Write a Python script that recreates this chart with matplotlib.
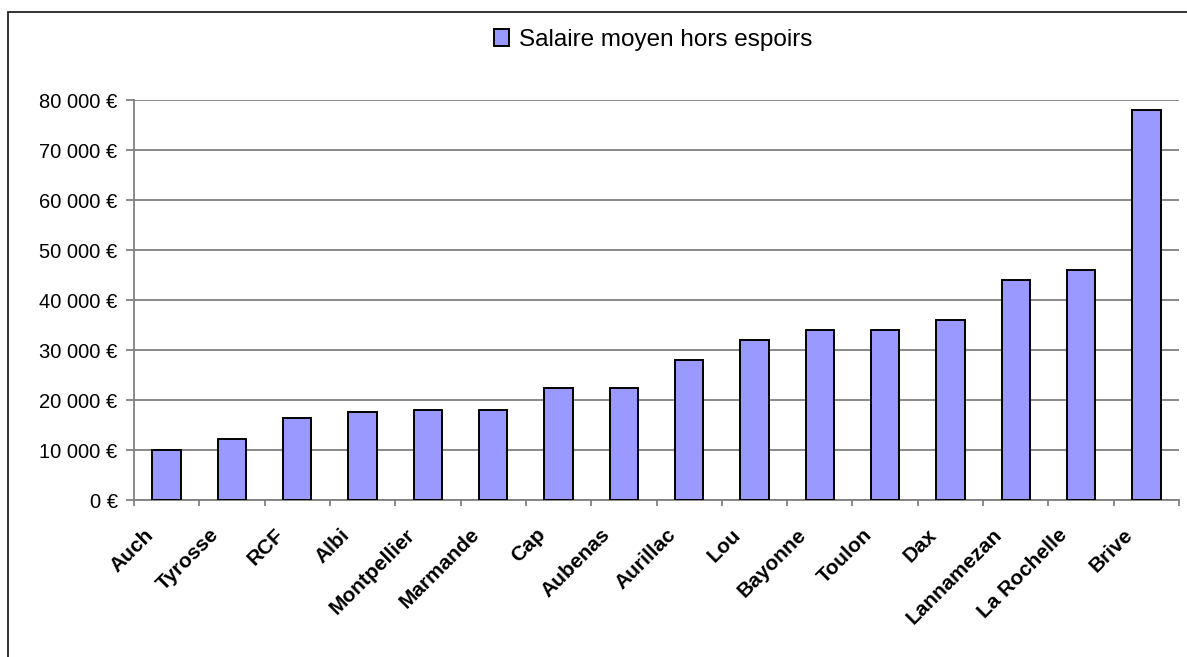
import matplotlib
matplotlib.use("Agg")
import matplotlib.pyplot as plt
import matplotlib.transforms as mtransforms
from matplotlib.patches import Rectangle
from matplotlib.ticker import FuncFormatter, FixedLocator, NullFormatter
import numpy as np

plt.rcParams['font.family'] = ['Liberation Sans', 'DejaVu Sans']

clubs = ["Auch", "Tyrosse", "RCF", "Albi", "Montpellier", "Marmande", "Cap",
         "Aubenas", "Aurillac", "Lou", "Bayonne", "Toulon", "Dax",
         "Lannamezan", "La Rochelle", "Brive"]
salaires = [10000, 12300, 16500, 17700, 18000, 18000, 22500, 22500, 28000,
            32000, 34000, 34000, 36000, 44000, 46000, 78000]
serie = "Salaire moyen hors espoirs"

W, H = 1187, 657
fig = plt.figure(figsize=(W / 100, H / 100), dpi=100)
ax = fig.add_axes([134 / W, 1 - 500 / H, (1179 - 134) / W, 400 / H])

x = np.arange(len(clubs))
ax.bar(x, salaires, width=0.435, color="#9999ff", edgecolor="black",
       linewidth=1.4, label=serie, zorder=3)

ax.set_xlim(-0.5, len(clubs) - 0.5)
ax.set_ylim(0, 80000)
ax.set_yticks(np.arange(0, 80001, 10000))
ax.yaxis.set_major_formatter(FuncFormatter(
    lambda v, p: f"{int(v):,}".replace(",", " ") + " €"))
ax.grid(axis="y", color="#808080", linewidth=1.3, zorder=0)

ax.set_xticks(x)
ax.set_xticklabels(clubs, rotation=45, ha="right", rotation_mode="anchor",
                   fontweight="bold", fontsize=15)
ax.tick_params(axis="x", length=0, pad=18)
shift = mtransforms.ScaledTranslation(-23 / 100, 0, fig.dpi_scale_trans)
for lbl in ax.get_xticklabels():
    lbl.set_transform(lbl.get_transform() + shift)
ax.xaxis.set_minor_locator(FixedLocator(np.arange(-0.5, len(clubs), 1.0)))
ax.xaxis.set_minor_formatter(NullFormatter())
ax.tick_params(axis="x", which="minor", length=4.5, color="#808080", width=1.3)
ax.tick_params(axis="y", length=5.8, color="#808080", width=1.3,
               labelsize=14.5, pad=6)

for s in ["top", "right"]:
    ax.spines[s].set_visible(False)
for s in ["left", "bottom"]:
    ax.spines[s].set_color("#808080")
    ax.spines[s].set_linewidth(1.3)

fig.legend(loc="center", bbox_to_anchor=(653 / W, 1 - 40 / H), frameon=False,
           fontsize=17.5, handlelength=0.64, handleheight=0.68,
           handletextpad=0.38, borderpad=0.1)

fig.patches.append(Rectangle((8 / W, -0.05), 1.2, 1 - 12 / H + 0.05,
                             transform=fig.transFigure, fill=False,
                             edgecolor="#222222", linewidth=1.3))

fig.savefig("out.png", dpi=100)
